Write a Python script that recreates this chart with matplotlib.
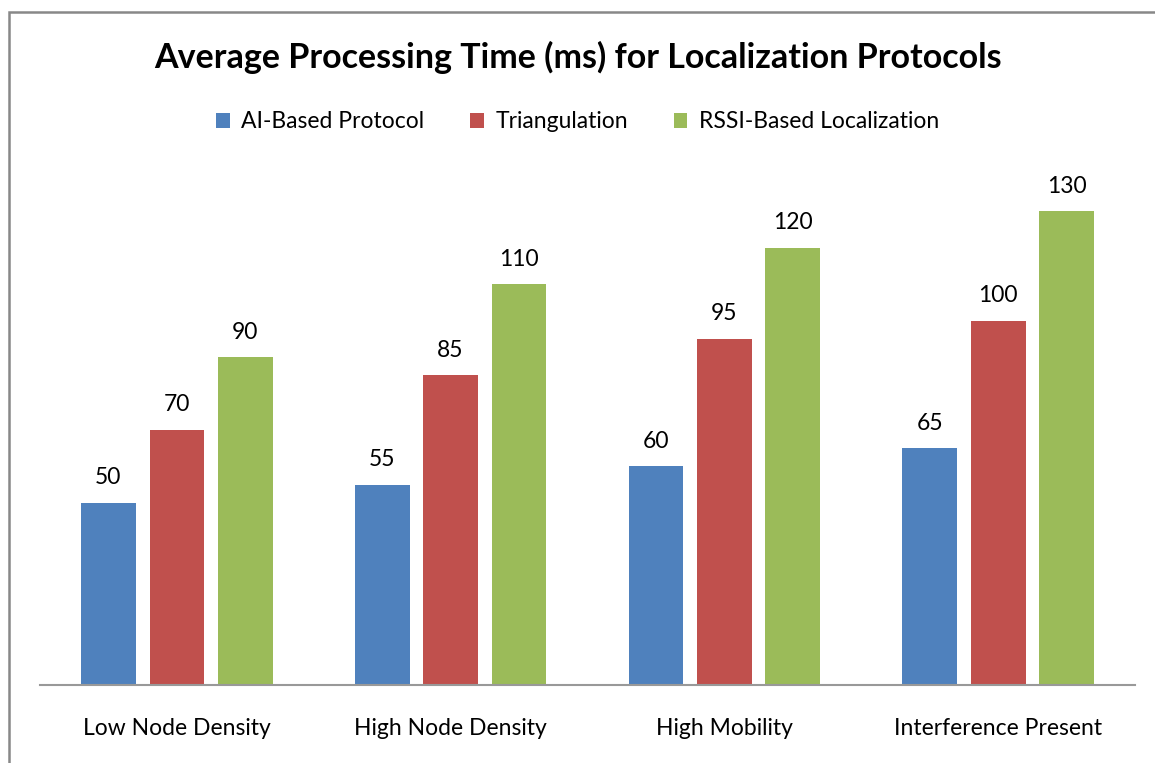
import numpy as np
import matplotlib
matplotlib.use("Agg")
import matplotlib.pyplot as plt
from matplotlib.patches import Rectangle

plt.rcParams["font.family"] = ["Lato", "DejaVu Sans"]

categories = ["Low Node Density", "High Node Density", "High Mobility", "Interference Present"]
series = ["AI-Based Protocol", "Triangulation", "RSSI-Based Localization"]
ai_based = [50, 55, 60, 65]
triangulation = [70, 85, 95, 100]
rssi_based = [90, 110, 120, 130]
colors = ["#4F81BD", "#C0504D", "#9BBB59"]

fig = plt.figure(figsize=(11.55, 7.63), dpi=100)
ax = fig.add_axes([40 / 1155, 78 / 763, 1095 / 1155, 510 / 763])

x = np.arange(len(categories))
width = 0.2
gap = 0.05
for i, (vals, name, c) in enumerate(zip([ai_based, triangulation, rssi_based], series, colors)):
    pos = x + (i - 1) * (width + gap)
    bars = ax.bar(pos, vals, width, color=c, label=name)
    for b, v in zip(bars, vals):
        ax.text(b.get_x() + b.get_width() / 2, v + 4, str(v), ha="center", va="bottom", fontsize=16.5)

ax.set_xlim(-0.5, len(categories) - 0.5)
ax.set_ylim(0, 140)
ax.set_xticks(x)
ax.set_xticklabels(categories, fontsize=16.5)
ax.tick_params(axis="x", length=0, pad=24)
ax.set_yticks([])
for s in ["top", "right", "left"]:
    ax.spines[s].set_visible(False)
ax.spines["bottom"].set_color("#999999")
ax.spines["bottom"].set_linewidth(1.5)

fig.text(0.5, 1 - 57 / 763, "Average Processing Time (ms) for Localization Protocols",
         ha="center", va="center", fontsize=24.5, fontweight="bold")
fig.legend(loc="center", bbox_to_anchor=(0.5, 1 - 122 / 763), ncol=3, frameon=False,
           fontsize=16.5, handlelength=0.6, handleheight=0.6, columnspacing=2.0, handletextpad=0.5)

fig.patches.append(Rectangle((9 / 1155, -0.1), 1.2, 1 - 12 / 763 + 0.1, transform=fig.transFigure,
                             fill=False, edgecolor="#888888", linewidth=1.8))

fig.savefig("out.png")
plt.close(fig)
